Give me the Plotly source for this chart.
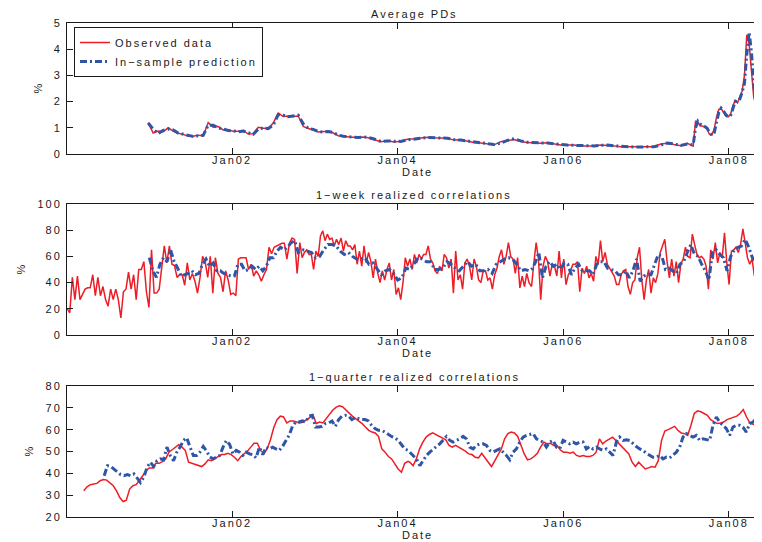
import pandas as pd
import plotly.graph_objects as go

# ---------------- data ----------------
TICK_DATES = ["2002-01-01", "2004-01-01", "2006-01-01", "2008-01-01"]
TICK_LABELS = ["Jan02", "Jan04", "Jan06", "Jan08"]
X_RANGE = ["2000-01-04", "2008-05-22"]

# Average PDs (%), observed, three contiguous stretches
PD_OBS_A_SPAN = ("2000-12-27", "2003-10-08")
PD_OBS_A = [1.2, 0.8, 0.88, 0.85, 1.0, 0.87, 0.79, 0.75, 0.68, 0.68, 0.72, 0.7, 1.2, 1.02, 1.05, 0.92,
            0.92, 0.87, 0.87, 0.9, 0.76, 0.77, 1.02, 0.98, 0.98, 1.18, 1.56, 1.43, 1.45, 1.43, 1.45,
            1.05, 0.97, 0.92, 0.84, 0.85, 0.87, 0.8, 0.7, 0.67, 0.65, 0.64, 0.64, 0.65, 0.62, 0.57, 0.5]
PD_OBS_B_SPAN = ("2003-10-19", "2007-07-02")
PD_OBS_B = [0.47, 0.51, 0.46, 0.49, 0.56, 0.58, 0.62, 0.64, 0.62, 0.6, 0.6, 0.53, 0.54, 0.49, 0.44,
            0.42, 0.39, 0.35, 0.47, 0.5, 0.55, 0.48, 0.44, 0.43, 0.41, 0.43, 0.38, 0.34, 0.34, 0.34,
            0.31, 0.31, 0.31, 0.34, 0.33, 0.31, 0.28, 0.28, 0.26, 0.28, 0.28, 0.28, 0.38, 0.41, 0.36,
            0.32, 0.41]
PD_OBS_C_SPAN = ("2007-07-28", "2008-05-21")
PD_OBS_C = [0.3, 1.25, 1.22, 1.07, 1.07, 1.02, 0.95, 0.75, 0.72, 0.95, 1.4, 1.7, 1.72, 1.6, 1.45, 1.42,
            1.5, 1.82, 2.05, 1.95, 2.15, 2.4, 3.0, 4.55, 4.2, 3.08, 2.15, 1.85, 1.65, 1.45]

# Average PDs (%), in-sample prediction
PD_PRED_A = [1.18, 0.95, 0.78, 0.9, 0.95, 0.92, 0.8, 0.76, 0.7, 0.67, 0.7, 0.71, 1.1, 1.1, 1.0, 0.95,
             0.9, 0.88, 0.85, 0.88, 0.8, 0.75, 0.95, 1.0, 0.97, 1.1, 1.5, 1.48, 1.42, 1.45, 1.48,
             1.15, 0.98, 0.94, 0.86, 0.84, 0.86, 0.82, 0.72, 0.68, 0.66, 0.64, 0.63, 0.65, 0.63, 0.58, 0.52]
PD_PRED_B = [0.48, 0.5, 0.48, 0.48, 0.54, 0.58, 0.6, 0.63, 0.63, 0.61, 0.6, 0.55, 0.53, 0.5, 0.46,
             0.43, 0.4, 0.36, 0.42, 0.52, 0.58, 0.5, 0.45, 0.43, 0.42, 0.42, 0.39, 0.35, 0.34, 0.33,
             0.32, 0.31, 0.31, 0.33, 0.34, 0.31, 0.29, 0.28, 0.27, 0.27, 0.28, 0.28, 0.34, 0.42, 0.38,
             0.33, 0.38]
PD_PRED_C = [0.35, 1.0, 1.25, 1.15, 1.08, 1.05, 0.98, 0.82, 0.72, 0.8, 1.2, 1.6, 1.75, 1.65, 1.5, 1.42,
             1.45, 1.7, 2.0, 2.0, 2.1, 2.35, 2.7, 3.8, 4.65, 3.9, 2.6, 2.0, 1.8, 1.55]

# 1-week realized correlations (%), observed
WK_OBS_A_SPAN = ("2000-01-05", "2002-10-15")
WK_OBS_A = [20, 17, 44, 27, 45, 27, 31, 35, 36, 36, 46, 30, 44, 30, 37, 27, 22, 35, 27, 35, 27, 13, 33,
            35, 48, 35, 46, 27, 50, 50, 56, 33, 21, 65, 32, 32, 35, 53, 68, 55, 68, 54, 53, 44, 46, 46,
            38, 55, 42, 47, 41, 32, 44, 60, 56, 44, 60, 32, 59, 47, 44, 33, 49, 42, 31, 32, 30, 58, 59,
            59, 59, 50, 54, 45, 49, 46, 41, 46, 50, 67, 62, 67, 68, 69, 70, 70, 58, 70, 74, 73, 47]
WK_OBS_B_SPAN = ("2002-10-27", "2005-08-03")
WK_OBS_B = [70.5, 59, 63, 65, 61.5, 61.5, 50, 64, 60, 75.6, 79.5, 72, 77, 73, 74, 68, 73, 69, 74, 64, 72,
            68, 68, 65, 69, 54, 64, 52.5, 68, 55, 63, 56, 43.6, 58, 47, 40, 49, 42, 50, 55, 42, 50, 31,
            36, 27, 40, 59, 52.5, 58, 50, 61.5, 55, 61.5, 58, 61.5, 61.5, 68, 58, 55, 49, 47, 52.5, 49,
            61.5, 59, 51, 58, 32, 64, 42, 46, 35, 55, 58, 52.5, 42, 58, 52.5, 42, 40, 49, 49, 42, 43.6,
            35, 46, 51, 60, 65, 54, 60, 70.5, 60, 58, 47, 59, 36, 45, 37, 47, 40]
WK_OBS_C_SPAN = ("2005-08-14", "2008-05-13")
WK_OBS_C = [37, 55, 70.5, 58, 27, 52.5, 60, 56, 45, 54, 52.5, 45, 64, 43.6, 58, 38.5, 46, 49, 54, 54, 56,
            33, 51, 47, 52.5, 43.6, 47, 41, 60, 54, 72, 56, 63, 54, 51, 49, 45, 38.5, 38.5, 46, 49, 50,
            37, 31, 40, 42, 59, 67, 42, 27, 42, 50, 32, 43.6, 40, 47, 63, 68, 73, 56, 43.6, 58, 45, 56,
            40, 54, 58, 67, 60, 59, 77, 69, 61.5, 59, 60, 58, 52.5, 35, 65, 58, 70.5, 55, 63, 59, 78,
            55, 38.5, 64, 65, 67, 63, 69, 81, 70.5, 59, 54, 58, 45, 55, 69]

# 1-week realized correlations (%), in-sample prediction
WK_PRED_A_SPAN = ("2001-01-01", "2002-10-20")
WK_PRED_A = [59, 49, 44, 54, 59, 56, 65, 56, 51, 45, 46, 47, 49, 46, 47, 54, 58, 52.5, 55, 49, 49, 47,
             46, 45, 45, 54, 54, 49, 50, 52.5, 50, 52.5, 49, 52.5, 59, 59, 64, 67, 65, 67, 70.5, 72, 63]
WK_PRED_B_SPAN = ("2002-11-11", "2005-08-03")
WK_PRED_B = [65, 64, 63, 59, 60, 65, 69, 69, 68, 64, 61.5, 63, 60, 58, 58, 59, 54, 55, 50, 46, 49, 50,
             47, 42, 43.6, 51, 50, 55, 59, 58, 56, 56, 50, 50, 51, 56, 54, 51, 49, 52.5, 56, 52.5, 54,
             49, 49, 50, 47, 54, 56, 58, 59, 58, 54, 49, 50, 49]
WK_PRED_C_SPAN = ("2005-08-14", "2008-05-16")
WK_PRED_C = [50, 55, 63, 43.6, 52.5, 56, 52.5, 54, 50, 55, 54, 46, 51, 54, 49, 49, 49, 46, 54, 56, 56,
             51, 50, 49, 46, 46, 49, 43.6, 49, 58, 41, 45, 46, 46, 54, 61.5, 60, 50, 51, 49, 47, 54, 56,
             63, 69, 61.5, 60, 54, 49, 42, 64, 65, 61.5, 59, 49, 60, 65, 67, 68, 73, 67, 59, 56, 63]

# 1-quarter realized correlations (%), observed
QT_OBS_A_SPAN = ("2000-03-18", "2004-02-16")
QT_OBS_A = [32, 33.8, 34.8, 35.1, 35.4, 36.6, 37.2, 36.9, 35.8, 34.3, 32, 28.9, 27.1, 27.7, 32.8, 34.3,
            34.8, 36.6, 38.9, 41.2, 42.5, 42.5, 44.6, 44.6, 45.4, 46.6, 49.7, 50.8, 52, 53.1, 52, 50.5,
            45.1, 44.6, 44, 43.5, 43.1, 44.3, 46.2, 45.8, 46.6, 47.7, 48.6, 48.6, 49.2, 48.6, 47.4,
            45.8, 47.7, 48.9, 50.2, 52, 53.8, 53.8, 50.5, 48.9, 51.2, 55.4, 60.9, 64.6, 66.2, 65.8,
            63.1, 64, 64, 63.5, 63.1, 63.5, 64.6, 65.8, 66.6, 62.8, 63.5, 63.1, 65.1, 67.4, 68.9, 70.2,
            70.9, 70.5, 68.9, 67.4, 66.2, 65.1, 64, 62.8, 61.2, 59.7, 58.9, 58.5, 56.9, 51.2, 49.7,
            47.7, 46.6, 44.3, 42, 40.5, 44.6, 45.5]
QT_OBS_B_SPAN = ("2004-02-24", "2008-05-16")
QT_OBS_B = [45.1, 43.5, 46.6, 51.2, 54.3, 56.6, 57.8, 58.5, 57.8, 56.9, 56.3, 55.4, 52.8, 52, 52.8, 52,
            51.2, 50.2, 48.9, 48.6, 47.4, 47.1, 49.2, 47.4, 45.1, 43.1, 45.8, 48.6, 51.2, 55.8, 58.2,
            58.9, 58.5, 56.9, 53.2, 48.9, 46.2, 46.6, 47.7, 49.2, 52, 54.3, 53.5, 53.8, 52.8, 52.8,
            50.8, 49.7, 49.7, 49.2, 49.7, 48.2, 47.7, 48.2, 47.7, 47.7, 48.2, 49.7, 55.8, 53.5, 54.8,
            55.8, 56.6, 55.1, 53.5, 52.3, 50.5, 48.9, 45.1, 43.1, 45.1, 43.5, 42, 42.5, 43.1, 42.8,
            45.8, 55.1, 59.4, 60, 60.9, 61.5, 59.7, 58.5, 58.2, 57.4, 62, 67.4, 68.6, 68.2, 67.4, 66.6,
            64.6, 63.5, 62.8, 63.1, 63.5, 64.6, 65.1, 65.5, 66.2, 67.4, 69.2, 65.8, 63.1, 62.5, 61.5,
            60.9]

# 1-quarter realized correlations (%), in-sample prediction
QT_PRED_A_SPAN = ("2000-06-16", "2004-02-16")
QT_PRED_A = [38.9, 43.5, 43.1, 42, 40.5, 39.4, 38.9, 39.4, 38.9, 39.7, 37.8, 35.8, 38.2, 42.8, 45.1,
             43.1, 45.8, 46.6, 46.2, 52, 48.2, 45.8, 49.7, 52, 55.1, 56.3, 52, 48.2, 48.2, 49.7, 52.3,
             50.2, 47.4, 46.6, 47.4, 48.2, 52, 55, 53.2, 48.9, 50.5, 49.7, 48.2, 49.7, 48.9, 48.6, 47.1,
             52, 48.6, 52, 51.2, 52, 51.2, 50.5, 52.3, 55, 57.4, 61.5, 63.5, 63.5, 64, 63.5, 66.2, 66.6,
             61.2, 61.2, 61.5, 62.8, 63.1, 64, 61.5, 64.6, 66.2, 66.6, 66.2, 64.6, 65.5, 65.1, 64.6,
             64.6, 64, 62, 60.5, 59.7, 59.7, 58.9, 57.8, 56.9, 56.3, 55.1, 53.2, 51.2, 50.5]
QT_PRED_B_SPAN = ("2004-02-24", "2008-05-16")
QT_PRED_B = [49.7, 48.2, 46.6, 43.5, 45.8, 48.2, 49.7, 50.8, 52.3, 53.5, 55.1, 56.9, 55.1, 54.3, 55.1,
             55.8, 56.9, 55.8, 52, 51.2, 52.8, 53.5, 53.5, 52.8, 50.5, 49.7, 50.5, 51.2, 49.7, 48.2,
             46.2, 49.7, 51.2, 54.3, 56.6, 57.4, 57.8, 58.2, 55.8, 55.1, 54.3, 52, 54.3, 55.1, 52, 51.2,
             55.1, 54.3, 53.5, 54.3, 53.5, 54.3, 54.3, 51.2, 52.3, 51.2, 52, 51.2, 50.5, 51.2, 49.7,
             48.2, 54.3, 56.6, 55.1, 55.4, 55, 53.5, 52.3, 51.2, 50.5, 49.2, 48.2, 47.4, 47.4, 48.2,
             46.6, 47.4, 47.1, 48.2, 49.7, 52, 56.6, 58.2, 57.4, 56.6, 57.4, 55.1, 55.8, 55.4, 55.1, 62,
             65.8, 63.5, 62, 60.5, 57.4, 61.2, 62, 62, 61.2, 58.9, 62.8, 63.5, 65.1, 65.8]

PANEL_TITLES = ["Average PDs", "1\u2212week realized correlations", "1\u2212quarter realized correlations"]
Y_TICKS = [[0, 1, 2, 3, 4, 5], [0, 20, 40, 60, 80, 100], [20, 30, 40, 50, 60, 70, 80]]
Y_RANGES = [[0, 5], [0, 100], [20, 80]]
SERIES_NAMES = ["Observed data", "In\u2212sample prediction"]
X_LABEL = "Date"
Y_LABEL = "%"


def build(parts):
    xs, ys = [], []
    for span, vals in parts:
        xs.extend(pd.date_range(span[0], span[1], periods=len(vals)))
        ys.extend(vals)
    return xs, ys


panels = [
    (build([(PD_OBS_A_SPAN, PD_OBS_A), (PD_OBS_B_SPAN, PD_OBS_B), (PD_OBS_C_SPAN, PD_OBS_C)]),
     build([(PD_OBS_A_SPAN, PD_PRED_A), (PD_OBS_B_SPAN, PD_PRED_B), (PD_OBS_C_SPAN, PD_PRED_C)])),
    (build([(WK_OBS_A_SPAN, WK_OBS_A), (WK_OBS_B_SPAN, WK_OBS_B), (WK_OBS_C_SPAN, WK_OBS_C)]),
     build([(WK_PRED_A_SPAN, WK_PRED_A), (WK_PRED_B_SPAN, WK_PRED_B), (WK_PRED_C_SPAN, WK_PRED_C)])),
    (build([(QT_OBS_A_SPAN, QT_OBS_A), (QT_OBS_B_SPAN, QT_OBS_B)]),
     build([(QT_PRED_A_SPAN, QT_PRED_A), (QT_PRED_B_SPAN, QT_PRED_B)])),
]

# ---------------- figure ----------------
# the page adds an 8px body margin, so the figure is 8px smaller and all
# positions below are given in page pixels and shifted by that margin
OFF = 8
W, H = 762 - OFF, 542 - OFF
RED = "#ee1c25"
BLUE = "#2f55a6"
INK = "#1a1a1a"
FONT = "Liberation Sans, Arial, Helvetica, sans-serif"
FS = 11


def tracked(s):
    # MATLAB-style wide letter spacing
    return '<span style="letter-spacing:2px">' + s + "</span>"


def px(x):
    return (x - OFF) / W


def py(y):
    return 1 - (y - OFF) / H


x_dom = [px(67), px(761)]
y_px = [(23, 154), (204, 335), (386, 517)]
y_doms = [[py(b), py(t)] for t, b in y_px]

fig = go.Figure()
for i, ((ox, oy), (pxs, pys)) in enumerate(panels):
    n = "" if i == 0 else str(i + 1)
    fig.add_trace(go.Scatter(x=ox, y=oy, mode="lines", name=tracked(SERIES_NAMES[0]),
                             line=dict(color=RED, width=1.5), showlegend=(i == 0),
                             xaxis="x" + n, yaxis="y" + n))
    fig.add_trace(go.Scatter(x=pxs, y=pys, mode="lines", name=tracked(SERIES_NAMES[1]),
                             line=dict(color=BLUE, width=3, dash="7px,3px,2px,3px"),
                             showlegend=(i == 0), xaxis="x" + n, yaxis="y" + n))

layout = dict(
    width=W, height=H, margin=dict(l=0, r=0, t=0, b=0),
    paper_bgcolor="white", plot_bgcolor="white",
    font=dict(family=FONT, size=FS, color=INK),
    showlegend=True,
    legend=dict(x=px(74), y=py(27), xanchor="left", yanchor="top",
                bordercolor=INK, borderwidth=1, bgcolor="white",
                font=dict(family=FONT, size=FS, color=INK), tracegroupgap=0,
                itemwidth=30),
    annotations=[],
)

for i in range(3):
    n = "" if i == 0 else str(i + 1)
    layout["xaxis" + n] = dict(
        domain=x_dom, anchor="y" + n, type="date", range=X_RANGE,
        tickmode="array", tickvals=TICK_DATES, ticktext=[tracked(t) for t in TICK_LABELS],
        ticks="inside", ticklen=6, tickcolor=INK, showgrid=False, zeroline=False,
        showline=True, linecolor=INK, linewidth=1, mirror="ticks",
        tickfont=dict(family=FONT, size=FS, color=INK), automargin=False,
        ticklabelstandoff=-4,
    )
    layout["yaxis" + n] = dict(
        domain=y_doms[i], anchor="x" + n, range=Y_RANGES[i],
        tickmode="array", tickvals=Y_TICKS[i], ticktext=[tracked(str(v)) for v in Y_TICKS[i]],
        ticks="inside", ticklen=6, tickcolor=INK, showgrid=False, zeroline=False,
        showline=True, linecolor=INK, linewidth=1, mirror="ticks",
        tickfont=dict(family=FONT, size=FS, color=INK), automargin=False,
        ticklabelstandoff=2,
    )
    top, bot = y_px[i]
    cx = (x_dom[0] + x_dom[1]) / 2
    layout["annotations"].append(dict(text=tracked(PANEL_TITLES[i]), xref="paper", yref="paper",
                                      x=cx, y=py(top - 9), xanchor="center",
                                      yanchor="middle", showarrow=False,
                                      font=dict(family=FONT, size=FS, color=INK)))
    layout["annotations"].append(dict(text=tracked(X_LABEL), xref="paper", yref="paper",
                                      x=px(417), y=py(bot + 18), xanchor="center",
                                      yanchor="middle", showarrow=False,
                                      font=dict(family=FONT, size=FS, color=INK)))
    pct_x = [38, 21, 28][i]
    layout["annotations"].append(dict(text=Y_LABEL, xref="paper", yref="paper",
                                      x=px(pct_x), y=py((top + bot) / 2), xanchor="center",
                                      yanchor="middle", showarrow=False, textangle=-90,
                                      font=dict(family=FONT, size=FS, color=INK)))

fig.update_layout(**layout)
fig.write_html("out.html")
